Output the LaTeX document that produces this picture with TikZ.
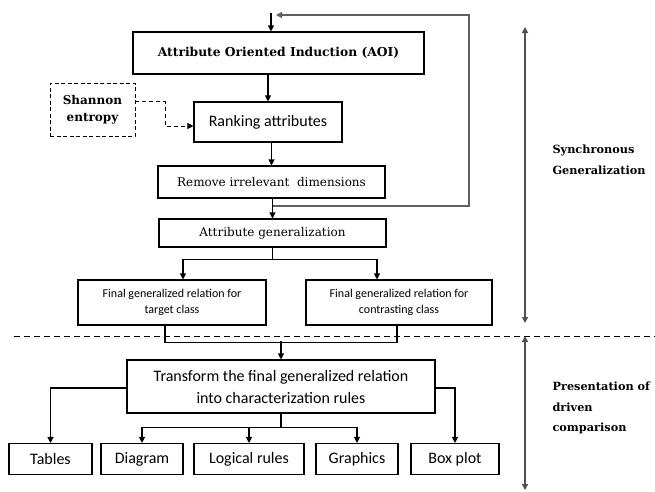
\documentclass[tikz,border=0pt]{standalone}
\usepackage{fontspec}
\setmainfont{DejaVu Serif}
\newfontfamily\calibri{Carlito}
\usetikzlibrary{arrows.meta}
\definecolor{loopgray}{HTML}{606060}
\definecolor{spangray}{HTML}{505050}

\begin{document}
\begin{tikzpicture}[x=1pt, y=-1pt, line width=1.1pt, >={Triangle[length=6pt,width=6pt]},
  box/.style={draw, rectangle, inner sep=0pt, align=center},
  serifbox/.style={box, font=\fontsize{12}{14}\selectfont},
  sansbox/.style={box, font=\calibri\fontsize{16}{22}\selectfont},
  smallbox/.style={box, font=\calibri\fontsize{12}{16}\selectfont},
  outbox/.style={sansbox, minimum height=31pt},
  sidelabel/.style={anchor=west, inner sep=0pt, align=left, font=\bfseries\fontsize{11.3}{20.5}\selectfont}]
  \useasboundingbox (0,0) rectangle (655,491);

  % upper part
  \node[box, minimum width=291pt, minimum height=42pt, font=\bfseries\fontsize{12.3}{15}\selectfont] (aoi) at (278.5,53) {Attribute Oriented Induction (AOI)};
  \node[sansbox, minimum width=148pt, minimum height=40pt] (rank) at (268,122) {Ranking attributes};
  \node[box, line width=0.9pt, dash pattern=on 4pt off 2.5pt, minimum width=85pt, minimum height=53pt, font=\bfseries\fontsize{12}{17}\selectfont] (shannon) at (92.5,109.5) {Shannon\\entropy};
  \node[serifbox, minimum width=227pt, minimum height=32pt] (remove) at (271.5,182) {Remove irrelevant\ \ dimensions};
  \node[serifbox, minimum width=227pt, minimum height=28pt] (attrgen) at (272.5,233) {Attribute generalization};
  \node[smallbox, minimum width=188pt, minimum height=45pt] (target) at (172,302.5) {Final generalized relation for\\target class};
  \node[smallbox, minimum width=186pt, minimum height=45pt] (contrast) at (399,302.5) {Final generalized relation for\\contrasting class};

  % lower part
  \node[sansbox, minimum width=308pt, minimum height=53pt] (transform) at (281,386.5) {Transform the final generalized relation\\into characterization rules};
  \node[outbox, minimum width=83pt] (tables) at (50.5,459) {Tables};
  \node[outbox, minimum width=82pt] (diagram) at (142,459) {Diagram};
  \node[outbox, minimum width=110pt] (logical) at (249,459) {Logical rules};
  \node[outbox, minimum width=82pt] (graphics) at (357,459) {Graphics};
  \node[outbox, minimum width=88pt] (boxplot) at (455,459) {Box plot};

  \node[sidelabel] (synclabel) at (552,160) {Synchronous\\Generalization};
  \node[sidelabel] (presentlabel) at (552,408) {Presentation of\\driven\\comparison};

  % connectors
  \coordinate (start) at (271,13);
  \draw[->] (start) -- (start |- aoi.north);
  \draw[->] (aoi.south -| rank.north) -- (rank.north);
  \draw[->] (rank.south -| remove.north) -- (remove.north);
  \draw[->] (remove.south -| attrgen.north) -- (attrgen.north);
  \draw[line width=0.9pt, dash pattern=on 4pt off 3pt, ->] ([yshift=8pt]shannon.east) -- ++(30,0) |- ([yshift=-4pt]rank.west);

  \coordinate (split) at (272.5,206);
  \coordinate (loop) at (469,15);
  \coordinate (loopend) at (276,15);
  \draw[loopgray, line width=1.3pt, ->] (split) -| (loop) -- (loopend);

  \draw[->] (attrgen.south) -- ++(0,12) -| ([xshift=11pt]target.north);
  \draw[->] (attrgen.south) ++(0,12) -| ([xshift=-22pt]contrast.north);

  \draw ([xshift=-7pt]target.south) -- ++(0,17) -| ([xshift=-2pt]contrast.south);
  \draw[->] (transform.north) ++(0,-18) -- (transform.north);

  \draw[->] ([yshift=-1.5pt]transform.west) -| (tables.north);
  \draw[->] ([yshift=-1.5pt]transform.east) -| (boxplot.north);
  \draw (transform.south) -- ++(0,14) coordinate (fork);
  \draw[->] (fork) -| (diagram.north);
  \draw[->] (fork) -| (logical.north);
  \draw[->] (fork) -| (graphics.north);

  % divider and spans
  \coordinate (divl) at (14,336);
  \coordinate (divr) at (655,336);
  \draw[line width=1pt, dash pattern=on 6pt off 4pt] (divl) -- (divr);
  \coordinate (synctop) at (525,27);
  \coordinate (syncbot) at (525,323);
  \coordinate (prestop) at (525,336);
  \coordinate (presbot) at (525,490);
  \draw[spangray, line width=1.3pt, <->] (synctop) -- (syncbot);
  \draw[spangray, line width=1.3pt, <->] (prestop) -- (presbot);
\end{tikzpicture}
\end{document}
